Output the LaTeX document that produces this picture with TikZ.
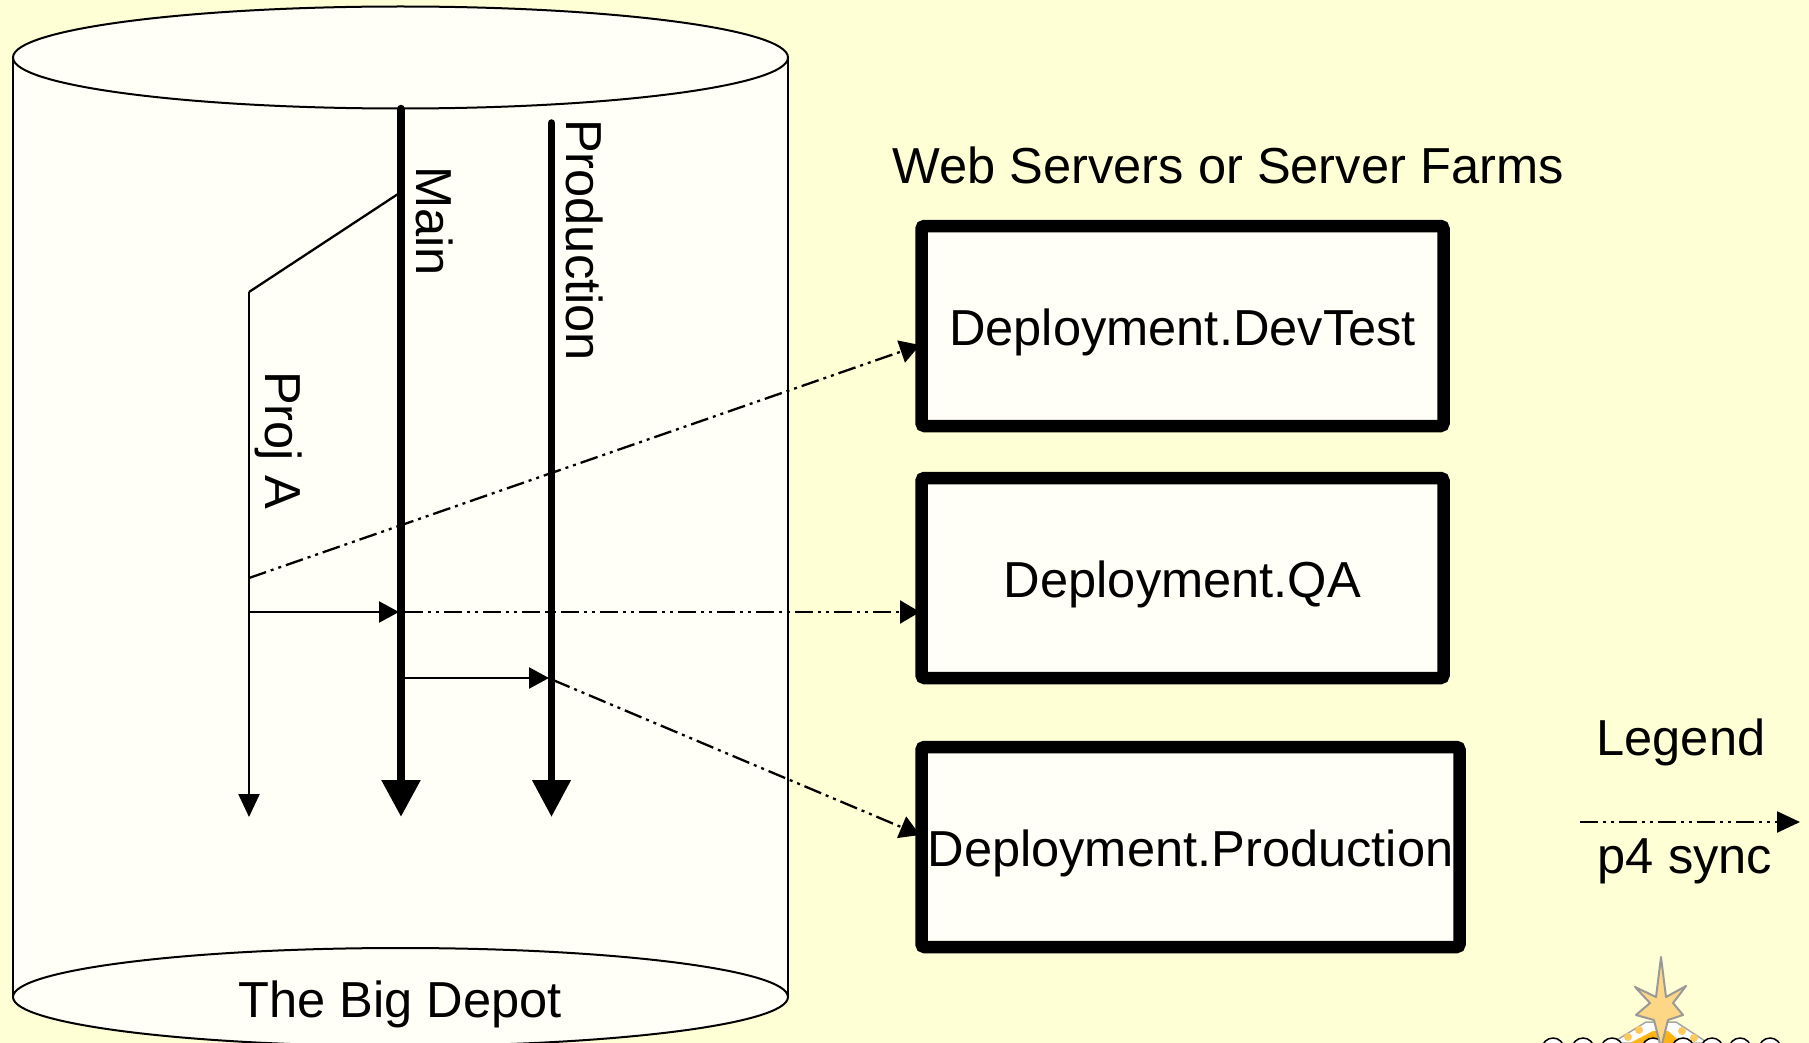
\documentclass[tikz,border=0pt]{standalone}
\usepackage{fontspec}
\setmainfont{Liberation Sans}
\usetikzlibrary{arrows.meta,shapes.geometric}

\definecolor{slidebg}{HTML}{FFFFD5}
\definecolor{paperbg}{HTML}{FFFFF7}
\definecolor{logoorange}{HTML}{FFB414}
\definecolor{logostar}{HTML}{FDD786}

\begin{document}
\begin{tikzpicture}[x=1pt,y=-1pt]
				
				\tikzset{
					every node/.style={font=\fontsize{50.6}{58}\selectfont},
					depot end/.style={
						ellipse,
						draw,
						line width=2pt,
						fill=paperbg,
						minimum width=775pt,
						minimum height=102pt,
						inner sep=0pt,
						outer sep=0pt
					},
					server box/.style={
						draw,
						line width=12.5pt,
						rounded corners=3pt,
						fill=paperbg,
						minimum height=200pt,
						text height=38pt,
						text depth=0pt,
						inner sep=0pt
					},
					codeline/.style={
						line width=8.5pt,
						line cap=round,
						-{Triangle[length=37pt,width=37pt]}
					},
					branchline/.style={
						line width=2.3pt,
						-{Triangle[length=20pt,width=21pt]}
					},
					syncline/.style={
						line width=2.3pt,
						dash pattern=on 18pt off 5pt on 3pt off 5pt on 3pt off 5pt,
						-{Triangle[length=20pt,width=23pt]}
					}
				}
				
				\clip (0,0) rectangle (1809,1043);
				\fill[slidebg] (0,0) rectangle (1809,1043);
				
				% depot
				\fill[paperbg] (13,57) rectangle (788,997);
				\node[depot end] (depottop) at (400.5,57.5) {};
				\node[depot end,minimum height=98pt] (depotbottom) at (400.5,997) {};
				\draw[line width=1.5pt] (depottop.west) -- (depotbottom.west);
				\draw[line width=1.5pt] (depottop.east) -- (depotbottom.east);
				\node (depotname) at (400,1004) {The Big Depot};
				
				% servers
				\node (farmtitle) at (1228,165) {Web Servers or Server Farms};
				\node[server box,minimum width=522pt] (devtest) at (1182.5,326) {Deployment.DevTest};
				\node[server box,minimum width=522pt] (qa) at (1182.5,578) {Deployment.QA};
				\node[server box,minimum width=538pt] (production) at (1190.5,847) {Deployment.Production};
				
				% codelines
				\coordinate (mainstart) at (401,109);
				\coordinate (mainend) at (401,817);
				\coordinate (prodstart) at (551.5,123);
				\coordinate (prodend) at (551.5,817);
				\coordinate (forkpoint) at (398,194);
				\coordinate (projknee) at (249,292);
				\coordinate (projend) at (249,817);
				
				\draw[codeline] (mainstart) -- (mainend);
				\draw[codeline,line width=7.5pt] (prodstart) -- (prodend);
				\draw[line width=2.3pt] (forkpoint) -- (projknee);
				\draw[branchline,-{Triangle[length=23pt,width=21pt]}] (projknee) -- (projend);
				
				\node[rotate=-90] (mainlabel) at (435,221) {Main};
				\node[rotate=-90] (prodlabel) at (585,240) {Production};
				\node[rotate=-90] (projlabel) at (279,440) {Proj A};
				
				% merges
				\coordinate (projout) at (249,612);
				\coordinate (mainin) at (399,612);
				\coordinate (mainout) at (405,678);
				\coordinate (prodin) at (549,678);
				\draw[branchline] (projout) -- (mainin);
				\draw[branchline] (mainout) -- (prodin);
				
				% syncs
				\coordinate (devfrom) at (249,578);
				\coordinate (devto) at (920,345);
				\coordinate (qafrom) at (405,612);
				\coordinate (qato) at (920,612);
				\coordinate (prodfrom) at (553,680);
				\coordinate (prodto) at (920,835);
				\draw[syncline] (devfrom) -- (devto);
				\draw[syncline] (qafrom) -- (qato);
				\draw[syncline] (prodfrom) -- (prodto);
				
				% legend
				\node (legendtitle) at (1681,742) {Legend};
				\coordinate (legendfrom) at (1580,822);
				\coordinate (legendto) at (1800,822);
				\draw[syncline,-{Triangle[length=23pt,width=21pt]}] (legendfrom) -- (legendto);
				\node (legendtext) at (1685,861) {p4 sync};
				
				% logo
				\fill[white,draw=gray!70,line width=1.5pt] (1612,1043) -- (1646,1022) -- (1676,1022) -- (1708,1043) -- cycle;
				\fill[logoorange] (1630,1043) -- (1653,1031) -- (1668,1031) -- (1682,1043) -- cycle;
				\fill[logoorange!70] (1628,1037) circle (4) (1639,1030) circle (4) (1682,1031) circle (4) (1694,1038) circle (4);
				\draw[line width=1.5pt,fill=white]
					(1553,1049) circle (11) (1583,1049) circle (11) (1612,1049) circle (11) (1653,1049) circle (11)
					(1683,1049) circle (11) (1712,1049) circle (11) (1740,1049) circle (11) (1770,1049) circle (11);
				\draw[gray!80,line width=2pt,fill=logostar,line join=round]
					(1661,957) -- (1666,997) -- (1686,986) -- (1673,1003) -- (1683,1015) -- (1668,1020)
					-- (1661,1048) -- (1654,1020) -- (1636,1015) -- (1650,1003) -- (1635,987) -- (1656,997) -- cycle;
				
\end{tikzpicture}
\end{document}
